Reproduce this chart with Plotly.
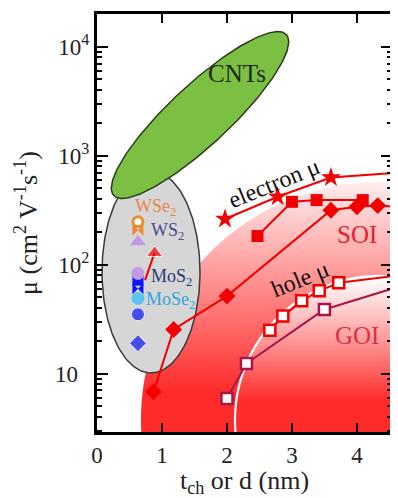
import base64, struct, zlib
import numpy as np
import plotly.graph_objects as go

# ---------------- data ----------------
electron_star_x = [1.97, 2.78, 3.60]
electron_star_y = [262, 420, 630]
electron_tail_x = [3.60, 4.80]
electron_tail_y = [630, 708]

soi_square_x = [2.47, 3.00, 3.38, 4.09]
soi_square_y = [183, 377, 391, 391]

soi_diamond_x = [0.87, 1.18, 2.00, 3.60, 4.00, 4.32]
soi_diamond_y = [6.8, 25.4, 51.4, 316, 340, 348]
soi_diamond_tail_x = [4.32, 4.80]
soi_diamond_tail_y = [348, 335]

hole_x = [2.66, 2.86, 3.15, 3.42, 3.72]
hole_y = [25.0, 33.7, 46.5, 57.5, 68.1]
hole_tail_x = [3.72, 4.80]
hole_tail_y = [68.1, 82]

goi_x = [2.00, 2.30, 3.50]
goi_y = [5.9, 12.4, 38.8]
goi_tail_x = [3.50, 4.80]
goi_tail_y = [38.8, 67]

tri_x = [0.74, 0.886]
tri_y = [72, 128]

tmd_x = 0.63
wse2_y = [247, 207]
ws2_y = [162]
mos2_y = [83, 72, 60]
mose2_y = [49]
other_y = [35, 19]

x_ticks = [0, 1, 2, 3, 4]
y_ticks = [10, 100, 1000, 10000]
y_ticktext = ["10\u2002", "10<sup>2</sup>", "10<sup>3</sup>", "10<sup>4</sup>"]

# ---------------- layout geometry ----------------
# the page body has an 8px default margin, so the figure is offset by 8px
BODY = 8
SCR_W, SCR_H = 398, 498
SL, SR, ST, SB = 97, 392, 14, 432          # plot area in window pixels
PW, PH = SR - SL, SB - ST
FIG_W, FIG_H = SCR_W - BODY, SCR_H - BODY
ML, MT = SL - BODY, ST - BODY
MR, MB = FIG_W - (SR - BODY), FIG_H - (SB - BODY)
X0, X1 = 0.0, 4.54
LY0, LY1 = 0.464, 4.30

SERIF = "Liberation Serif"
RED = "#f20000"
CRIMSON = "#a8174c"


def p2x(px):
    return X0 + px / PW * (X1 - X0)


def p2y(py):
    return 10 ** (LY1 - py / PH * (LY1 - LY0))


def ellipse(cx, cy, a, b, ang_deg, n=200):
    t = np.linspace(0, 2 * np.pi, n)
    ph = np.deg2rad(ang_deg)
    px = cx + a * np.cos(t) * np.cos(ph) - b * np.sin(t) * np.sin(ph)
    py = cy - (a * np.cos(t) * np.sin(ph) + b * np.sin(t) * np.cos(ph))
    return p2x(px), p2y(py)


def png_uri(rgba):
    h, w, _ = rgba.shape
    raw = b"".join(b"\x00" + rgba[r].tobytes() for r in range(h))

    def chunk(tag, data):
        c = struct.pack(">I", len(data)) + tag + data
        return c + struct.pack(">I", zlib.crc32(tag + data) & 0xFFFFFFFF)

    png = (b"\x89PNG\r\n\x1a\n"
           + chunk(b"IHDR", struct.pack(">IIBBBBB", w, h, 8, 6, 0, 0, 0))
           + chunk(b"IDAT", zlib.compress(raw, 9))
           + chunk(b"IEND", b""))
    return "data:image/png;base64," + base64.b64encode(png).decode()


# background gradient regions (SOI / GOI)
jj, ii = np.mgrid[0:PH, 0:PW]
xx, yy = ii + 0.5, jj + 0.5
ccx, ccy = 282.0, 406.0
d = np.hypot(xx - ccx, yy - ccy)
R_SOI, R_GOI = 238.0, 144.0
cov = np.clip(R_SOI - d + 0.5, 0, 1)
in_goi = np.clip(R_GOI - d + 0.5, 0, 1)
t_soi = np.clip((yy - 150) / 230, 0, 1)
t_goi = np.clip((yy - 262) / 125, 0, 1) ** 1.1
tt = t_soi * (1 - in_goi) + t_goi * in_goi
rim = np.clip(1.6 - np.abs(d - R_GOI), 0, 1)
tt = tt * (1 - rim)
img = np.zeros((PH, PW, 4), dtype=np.uint8)
img[..., 0] = 255
img[..., 1] = np.clip(255 + (42 - 255) * tt, 0, 255)
img[..., 2] = np.clip(255 + (42 - 255) * tt, 0, 255)
img[..., 3] = np.clip(cov * 255, 0, 255)
bg_uri = png_uri(img)

fig = go.Figure()

# gray TMD ellipse
gx, gy = ellipse(54, 258, 49, 101, 0)
fig.add_trace(go.Scatter(x=gx, y=gy, mode="lines", fill="toself",
                         fillcolor="#d6d6d6", line=dict(color="#3a3a3a", width=1.5)))
# green CNT ellipse
cxs, cys = ellipse(103, 101, 118, 30, 43)
fig.add_trace(go.Scatter(x=cxs, y=cys, mode="lines", fill="toself",
                         fillcolor="#7cc043", line=dict(color="#2a3a1a", width=1.5)))

# tails
for tx, ty, col in [(electron_tail_x, electron_tail_y, RED),
                    (soi_diamond_tail_x, soi_diamond_tail_y, RED),
                    (hole_tail_x, hole_tail_y, RED),
                    (goi_tail_x, goi_tail_y, CRIMSON)]:
    fig.add_trace(go.Scatter(x=tx, y=ty, mode="lines", line=dict(color=col, width=2)))

fig.add_trace(go.Scatter(x=electron_star_x, y=electron_star_y, mode="lines+markers",
                         line=dict(color=RED, width=2),
                         marker=dict(symbol="star", size=15, color=RED)))
fig.add_trace(go.Scatter(x=soi_square_x, y=soi_square_y, mode="lines+markers",
                         line=dict(color=RED, width=2),
                         marker=dict(symbol="square", size=12, color=RED)))
fig.add_trace(go.Scatter(x=soi_diamond_x, y=soi_diamond_y, mode="lines+markers",
                         line=dict(color=RED, width=2),
                         marker=dict(symbol="diamond", size=13, color=RED)))
fig.add_trace(go.Scatter(x=goi_x, y=goi_y, mode="lines+markers",
                         line=dict(color=CRIMSON, width=2),
                         marker=dict(symbol="square", size=11, color="white",
                                     line=dict(color=CRIMSON, width=2.5))))
fig.add_trace(go.Scatter(x=hole_x, y=hole_y, mode="lines+markers",
                         line=dict(color=RED, width=2),
                         marker=dict(symbol="square", size=11, color="white",
                                     line=dict(color=RED, width=2.5))))
fig.add_trace(go.Scatter(x=tri_x, y=tri_y, mode="lines+markers",
                         line=dict(color=RED, width=2),
                         marker=dict(symbol="triangle-up", size=[0, 14], color=RED)))

# TMD points
ORANGE, LAV, BLUE, CYAN = "#ec8a2e", "#c39ae6", "#0a14f5", "#5cc6ee"
fig.add_trace(go.Scatter(x=[tmd_x], y=[wse2_y[1]], mode="markers",
                         marker=dict(symbol="bowtie", size=11, color=ORANGE)))
fig.add_trace(go.Scatter(x=[tmd_x], y=[wse2_y[0]], mode="markers",
                         marker=dict(symbol="circle", size=10, color="white",
                                     line=dict(color=ORANGE, width=3))))
fig.add_trace(go.Scatter(x=[tmd_x], y=ws2_y, mode="markers",
                         marker=dict(symbol="triangle-up", size=14, color=LAV)))
fig.add_trace(go.Scatter(x=[tmd_x] * 2, y=[mos2_y[2], mos2_y[1]], mode="markers",
                         marker=dict(symbol=["bowtie", "square"], size=11, color=BLUE)))
fig.add_trace(go.Scatter(x=[tmd_x], y=[mos2_y[0]], mode="markers",
                         marker=dict(symbol="circle", size=13, color=LAV)))
fig.add_trace(go.Scatter(x=[tmd_x], y=mose2_y, mode="markers",
                         marker=dict(symbol="circle", size=13, color=CYAN)))
fig.add_trace(go.Scatter(x=[tmd_x] * 2, y=other_y, mode="markers",
                         marker=dict(symbol=["circle", "diamond"], size=[13, 13], color=BLUE)))


def ann(text, px, py, size, color, angle=0, xanchor="center"):
    fig.add_annotation(text=text, x=(px - SL) / PW, y=1 - (py - ST) / PH,
                       xref="paper", yref="paper", showarrow=False,
                       xanchor=xanchor, yanchor="middle", textangle=angle,
                       font=dict(family=SERIF, size=size, color=color))


ann("CNTs", 237, 73, 25, "#1c2a14")
ann("electron μ", 274, 183, 24, "#111111", angle=-22)
ann("SOI", 357, 234, 25, "#e61e2a")
ann("hole μ", 300, 279, 24, "#111111", angle=-22)
ann("GOI", 357, 335, 25, "#d4324c")
ann("WSe<sub>2</sub>", 133, 207, 18, "#e9844a", xanchor="left")
ann("WS<sub>2</sub>", 149, 232, 18, "#4a4a8c", xanchor="left")
ann("MoS<sub>2</sub>", 149, 277, 18, "#263a78", xanchor="left")
ann("MoSe<sub>2</sub>", 144, 300, 18, "#2fa6dc", xanchor="left")

tickfont = dict(family=SERIF, size=23, color="#222222")
fig.update_layout(
    width=FIG_W, height=FIG_H,
    margin=dict(l=ML, r=MR, t=MT, b=MB, autoexpand=False),
    paper_bgcolor="white", plot_bgcolor="rgba(0,0,0,0)",
    font=dict(family=SERIF),
    showlegend=False, hovermode=False,
    images=[dict(source=bg_uri, xref="paper", yref="paper", x=0, y=1,
                 sizex=1, sizey=1, xanchor="left", yanchor="top",
                 sizing="stretch", layer="below")],
    xaxis=dict(range=[X0, X1], tickmode="array", tickvals=x_ticks,
               ticks="inside", ticklen=9, tickwidth=2, tickcolor="black",
               showline=True, linewidth=3, linecolor="black", mirror="allticks",
               showgrid=False, zeroline=False, tickfont=tickfont,
               title=dict(text="t<sub>ch</sub> or d (nm)", standoff=0,
                          font=dict(family=SERIF, size=26, color="#222222"))),
    yaxis=dict(type="log", range=[LY0, LY1], tickmode="array", tickvals=y_ticks,
               ticktext=y_ticktext,
               ticks="inside", ticklen=11, tickwidth=2, tickcolor="black",
               minor=dict(ticks="inside", ticklen=5, tickwidth=1.5, tickcolor="black",
                          dtick="D1", showgrid=False),
               showline=True, linewidth=3, linecolor="black", mirror="allticks",
               showgrid=False, zeroline=False, tickfont=tickfont,
               title=dict(text="μ (cm<sup>2</sup> V<sup>-1</sup>s<sup>-1</sup>)", standoff=10,
                          font=dict(family=SERIF, size=26, color="#222222"))),
)

fig.write_html("out.html")
